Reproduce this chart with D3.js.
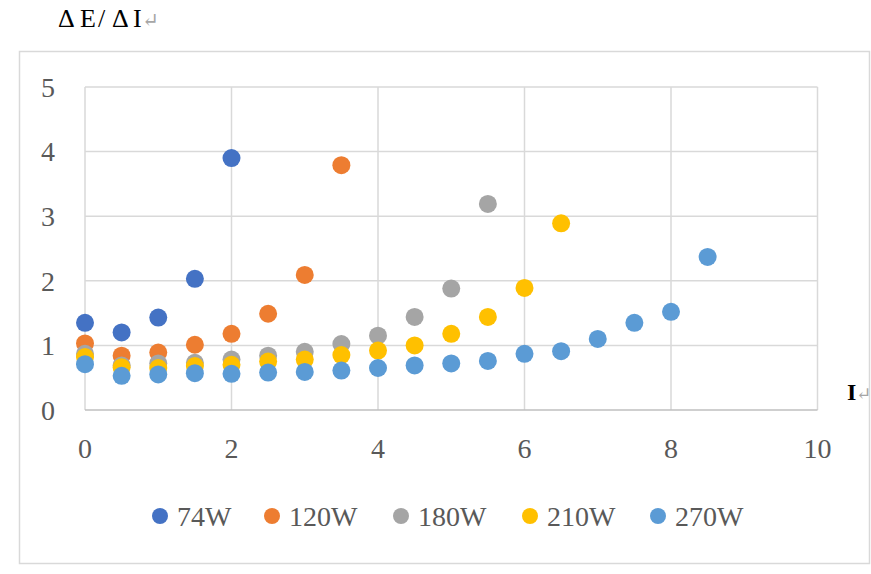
<!DOCTYPE html>
<html>
<head>
<meta charset="utf-8">
<script src="https://cdn.jsdelivr.net/npm/d3@7"></script>
<style>
  body { margin: 0; background: #fff; }
  text { font-family: "Liberation Serif", "DejaVu Serif", serif; fill: #595959; }
</style>
</head>
<body>
<svg id="chart"></svg>
<script>
const seriesNames = ["74W", "120W", "180W", "210W", "270W"];
const seriesColors = ["#4472C4", "#ED7D31", "#A5A5A5", "#FFC000", "#5B9BD5"];
const currentSteps = [0, 0.5, 1, 1.5, 2, 2.5, 3, 3.5, 4, 4.5, 5, 5.5, 6, 6.5, 7, 7.5, 8, 8.5];
const values74 = [1.35, 1.20, 1.43, 2.03, 3.90];
const values120 = [1.03, 0.84, 0.89, 1.01, 1.18, 1.49, 2.09, 3.79];
const values180 = [0.87, 0.69, 0.72, 0.73, 0.78, 0.84, 0.90, 1.02, 1.15, 1.44, 1.88, 3.19];
const values210 = [0.82, 0.66, 0.65, 0.68, 0.70, 0.75, 0.78, 0.85, 0.92, 1.00, 1.18, 1.44, 1.89, 2.89];
const values270 = [0.71, 0.53, 0.55, 0.57, 0.56, 0.58, 0.59, 0.61, 0.65, 0.69, 0.72, 0.76, 0.87, 0.91, 1.10, 1.35, 1.52, 2.37];
const xTicks = [0, 2, 4, 6, 8, 10];
const yTicks = [0, 1, 2, 3, 4, 5];

const allValues = [values74, values120, values180, values210, values270];
const series = seriesNames.map((name, i) => ({
  name,
  color: seriesColors[i],
  points: allValues[i].map((v, j) => ({ x: currentSteps[j], y: v }))
}));

const width = 871, height = 574;
const svg = d3.select("#chart").attr("width", width).attr("height", height);

// outer chart frame
svg.append("rect")
  .attr("x", 19.5).attr("y", 51.5)
  .attr("width", 850).attr("height", 512)
  .attr("fill", "#fff")
  .attr("stroke", "#D9D9D9")
  .attr("stroke-width", 1.5);

const x = d3.scaleLinear().domain([0, 10]).range([85, 817.5]);
const y = d3.scaleLinear().domain([0, 5]).range([410, 87]);

const grid = svg.append("g");
grid.selectAll(".vg")
  .data(xTicks)
  .enter()
  .append("line")
  .attr("x1", d => x(d)).attr("x2", d => x(d))
  .attr("y1", y(0)).attr("y2", y(5))
  .attr("stroke", "#D9D9D9")
  .attr("stroke-width", 1.5);
grid.selectAll(".hg")
  .data(yTicks.filter(d => d > 0))
  .enter()
  .append("line")
  .attr("x1", x(0)).attr("x2", x(10))
  .attr("y1", d => y(d)).attr("y2", d => y(d))
  .attr("stroke", "#D9D9D9")
  .attr("stroke-width", 1.5);

// x axis line
svg.append("line")
  .attr("x1", x(0)).attr("x2", x(10))
  .attr("y1", y(0)).attr("y2", y(0))
  .attr("stroke", "#BFBFBF")
  .attr("stroke-width", 1.5);

svg.append("g")
  .selectAll("text")
  .data(yTicks)
  .enter()
  .append("text")
  .attr("x", 55)
  .attr("y", d => y(d))
  .attr("dy", "0.35em")
  .attr("text-anchor", "end")
  .style("font-size", "28px")
  .text(d => d);

svg.append("g")
  .selectAll("text")
  .data(xTicks)
  .enter()
  .append("text")
  .attr("x", d => x(d))
  .attr("y", 448)
  .attr("dy", "0.35em")
  .attr("text-anchor", "middle")
  .style("font-size", "28px")
  .text(d => d);

// axis titles
const title = svg.append("text")
  .attr("y", 27)
  .style("font-size", "26px")
  .style("fill", "#000");
title.append("tspan").text("Δ").attr("x", 58);
title.append("tspan").text("E").attr("x", 80);
title.append("tspan").text("/").attr("x", 98);
title.append("tspan").text("Δ").attr("x", 112);
title.append("tspan").text("I").attr("x", 133);
title.append("tspan").text("↵").attr("x", 142).style("fill", "#A6A6A6").style("font-size", "20px");

const xTitle = svg.append("text")
  .attr("x", 847).attr("y", 400)
  .style("font-size", "24px")
  .style("font-weight", "bold")
  .style("fill", "#000");
xTitle.append("tspan").text("I");
xTitle.append("tspan").text("↵").style("fill", "#A6A6A6").style("font-weight", "normal").style("font-size", "18px");

// points
const plot = svg.append("g");
series.forEach(s => {
  plot.append("g")
    .selectAll("circle")
    .data(s.points)
    .enter()
    .append("circle")
    .attr("cx", d => x(d.x))
    .attr("cy", d => y(d.y))
    .attr("r", 9)
    .attr("fill", s.color);
});

// legend
const legendX = [160, 272, 401, 530, 658];
const legend = svg.append("g");
const item = legend.selectAll("g")
  .data(series)
  .enter()
  .append("g")
  .attr("transform", (d, i) => `translate(${legendX[i]}, 516)`);
item.append("circle")
  .attr("r", 8)
  .attr("fill", d => d.color);
item.append("text")
  .attr("x", 17)
  .attr("dy", "0.35em")
  .style("font-size", "28px")
  .text(d => d.name);
</script>
</body>
</html>
